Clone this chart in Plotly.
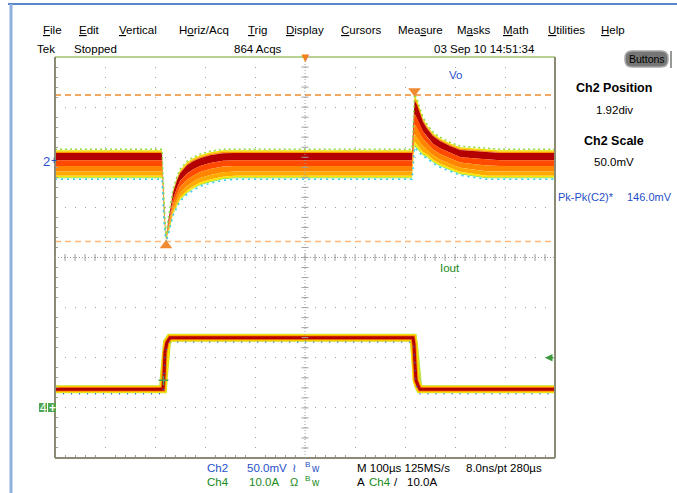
import numpy as np
import plotly.graph_objects as go

W, H = 677, 493
# graticule box in pixels
GX0, GX1, GY0, GY1 = 55, 555, 57, 458

# ---- data ----
# time axis: trigger at 0, 100 us/div, horizontal delay 280 us
t_range = [-220, 780]

# Ch2 (Vo) persistence envelope, mV (upper / lower edge of the coloured band)
vo_t = [-220, -6, -2, 2, 6, 10, 16, 24, 30, 44, 56, 70, 90, 116, 140,
        494, 497, 499, 504, 510, 516, 524, 536, 550, 570, 590, 616, 644, 670, 780]
vo_hi = [11, 11, -39, -77, -60, -46, -29, -16, -9, -1, 3, 6, 9, 11, 11,
         11, 40, 66, 61, 51, 43, 36, 28, 23, 18, 14, 13, 12, 11, 11]
vo_lo = [-17, -17, -59, -80, -73, -66, -53, -45, -39, -32, -28, -24, -21, -18, -17,
         -17, 0, 15, 12, 9, 6, 4, -1, -5, -9, -13, -15, -17, -17, -17]

# Ch4 (Iout), A
io_t = [-220, -4, -2, 0, 4, 10, 496, 498, 500, 502, 506, 510, 780]
io_a = [3.7, 3.7, 6.5, 11.1, 13.1, 14.0, 14.0, 12.6, 8.6, 5.5, 4.5, 3.7, 3.7]

ch2_pos, ch2_scale = 1.92, 50.0   # div, mV/div
ch4_pos, ch4_scale = -3.0, 10.0   # div, A/div
trig_level = 10.0                 # A
cursor_hi, cursor_lo = 66.0, -80.0  # mV  (Pk-Pk 146 mV)
cursor_hi_t, cursor_lo_t = 499, 2


def px(x):
    return x / W


def py(y):
    return 1 - y / H


fig = go.Figure()

# Vo band, drawn as coloured layers between fractions of the envelope
vt = np.array(vo_t)
hi = ch2_pos + np.array(vo_hi) / ch2_scale
lo = ch2_pos + np.array(vo_lo) / ch2_scale
layers = [
    (0.00, 0.05, '#f4e000'),
    (0.05, 0.10, '#ff9a00'),
    (0.10, 0.36, '#b40000'),
    (0.36, 0.56, '#ff4a00'),
    (0.56, 0.76, '#ff8400'),
    (0.76, 0.91, '#ffaa00'),
    (0.91, 0.97, '#ffe400'),
    (0.97, 1.00, '#7ee03c'),
]
for f0, f1, col in layers:
    a = hi + f0 * (lo - hi)
    b = hi + f1 * (lo - hi)
    fig.add_trace(go.Scatter(x=np.concatenate([vt, vt[::-1]]),
                             y=np.concatenate([a, b[::-1]]),
                             fill='toself', fillcolor=col, mode='lines',
                             line=dict(width=0), hoverinfo='skip'))
# speckled edges
fig.add_trace(go.Scatter(x=vt, y=hi + 0.02, mode='lines',
                         line=dict(color='#8ce040', width=1.5, dash='2px,3px')))
fig.add_trace(go.Scatter(x=vt, y=lo - 0.02, mode='lines',
                         line=dict(color='#30c8f0', width=1.5, dash='2px,4px')))

# Iout trace
iy = ch4_pos + np.array(io_a) / ch4_scale
for col, wd in [('#b8e040', 8), ('#ffe000', 7), ('#ff9000', 5), ('#b40000', 3)]:
    fig.add_trace(go.Scatter(x=io_t, y=iy, mode='lines',
                             line=dict(color=col, width=wd), hoverinfo='skip'))
fig.add_trace(go.Scatter(x=io_t, y=iy - 0.09, mode='lines',
                         line=dict(color='#2a6cff', width=1.5, dash='1px,7px')))

# cursors
for v, col in [(cursor_hi, '#f08a30'), (cursor_lo, '#ffb878')]:
    fig.add_trace(go.Scatter(x=t_range, y=[ch2_pos + v / ch2_scale] * 2, mode='lines',
                             line=dict(color=col, width=1.5, dash='6px,4px')))
fig.add_trace(go.Scatter(x=[cursor_hi_t], y=[ch2_pos + cursor_hi / ch2_scale + 0.08],
                         mode='markers', marker=dict(symbol='triangle-down', size=11,
                                                     color='#f08a30')))
fig.add_trace(go.Scatter(x=[cursor_lo_t], y=[ch2_pos + cursor_lo / ch2_scale - 0.08],
                         mode='markers', marker=dict(symbol='triangle-up', size=11,
                                                     color='#f08a30')))
# trigger point marker
fig.add_trace(go.Scatter(x=[-3], y=[ch4_pos + 0.55], mode='markers',
                         marker=dict(symbol='cross-thin', size=7,
                                     line=dict(color='#50a050', width=1.5))))

# centre crosshair with tick marks
cx = np.arange(t_range[0], t_range[1] + 1, 20)
cy = np.arange(-4, 4.01, 0.2)
fig.add_trace(go.Scatter(x=cx, y=np.zeros_like(cx), mode='markers',
                         marker=dict(symbol='line-ns', size=5,
                                     line=dict(color='#a0a0a0', width=1))))
fig.add_trace(go.Scatter(x=np.full_like(cy, 280), y=cy, mode='markers',
                         marker=dict(symbol='line-ew', size=5,
                                     line=dict(color='#a0a0a0', width=1))))

fig.update_xaxes(range=t_range, domain=[px(GX0), px(GX1)], showticklabels=False,
                 tick0=-220, dtick=100, showgrid=True, gridcolor='#a0a0a0',
                 griddash='1px,9px', gridwidth=1, zeroline=False, ticks='',
                 showline=False, fixedrange=True,
                 minor=dict(ticks='inside', ticklen=3, tickcolor='#a0a0a0', dtick=20,
                            tick0=-220, showgrid=False))
fig.update_yaxes(range=[-4, 4], domain=[py(GY1), py(GY0)], showticklabels=False,
                 dtick=1, tick0=0, showgrid=True, gridcolor='#a0a0a0',
                 griddash='1px,9px', gridwidth=1, zeroline=False, ticks='',
                 showline=False, fixedrange=True,
                 minor=dict(ticks='inside', ticklen=3, tickcolor='#a0a0a0', dtick=0.2,
                            showgrid=False))

# rounded "Buttons" pill path
bx0, bx1, by0, by1, r = px(625), px(668), py(67), py(51), 7
rx, ry = r / W, r / H
pill = (f"M {bx0 + rx},{by0} L {bx1 - rx},{by0} Q {bx1},{by0} {bx1},{by0 + ry} "
        f"L {bx1},{by1 - ry} Q {bx1},{by1} {bx1 - rx},{by1} L {bx0 + rx},{by1} "
        f"Q {bx0},{by1} {bx0},{by1 - ry} L {bx0},{by0 + ry} Q {bx0},{by0} {bx0 + rx},{by0} Z")

shapes = [
    # window border
    dict(type='line', xref='paper', yref='paper', x0=px(8), x1=1, y0=py(4), y1=py(4),
         line=dict(color='#5a86c8', width=2)),
    dict(type='line', xref='paper', yref='paper', x0=px(11), x1=px(11), y0=py(4), y1=0,
         line=dict(color='#8fb0dc', width=3)),
    # graticule frame
    dict(type='line', xref='paper', yref='paper', x0=px(GX0), x1=px(GX1), y0=py(GY0), y1=py(GY0),
         line=dict(color='#b8d090', width=2)),
    dict(type='line', xref='paper', yref='paper', x0=px(GX0), x1=px(GX0), y0=py(GY0), y1=py(GY1),
         line=dict(color='#8c8a74', width=2)),
    dict(type='line', xref='paper', yref='paper', x0=px(GX1), x1=px(GX1), y0=py(GY0), y1=py(GY1),
         line=dict(color='#8c8a74', width=2)),
    dict(type='line', xref='paper', yref='paper', x0=px(GX0), x1=px(GX1), y0=py(GY1), y1=py(GY1),
         line=dict(color='#8c8a74', width=2)),
    # centre lines
    dict(type='line', x0=t_range[0], x1=t_range[1], y0=0, y1=0,
         line=dict(color='#a0a0a0', width=1, dash='1px,2px')),
    dict(type='line', x0=280, x1=280, y0=-4, y1=4,
         line=dict(color='#a0a0a0', width=1, dash='1px,2px')),
    # Buttons pill
    dict(type='path', xref='paper', yref='paper', path=pill,
         fillcolor='#767676', line=dict(color='#a8a8a8', width=1.5)),
    dict(type='line', xref='paper', yref='paper', x0=px(671), x1=px(671), y0=py(51), y1=py(68),
         line=dict(color='#303030', width=1)),
    # Ch4 marker box
    dict(type='rect', xref='paper', yref='paper', x0=px(39), x1=px(47), y0=py(412), y1=py(403),
         fillcolor='#4fa64f', line=dict(width=0)),
    dict(type='rect', xref='paper', yref='paper', x0=px(48), x1=px(56), y0=py(412), y1=py(403),
         fillcolor='#4fa64f', line=dict(width=0)),
]

FONT = 'Liberation Sans, Arial, sans-serif'
BLUE, GREEN, BLACK = '#1f4fc8', '#1a8a1a', '#000000'
ann = []


def txt(x, y, s, color=BLACK, size=11, anchor='left', bold=False):
    ann.append(dict(x=px(x), y=py(y), xref='paper', yref='paper', text=f'<b>{s}</b>' if bold else s,
                    showarrow=False, xanchor=anchor, yanchor='middle',
                    font=dict(family=FONT, size=size, color=color)))


menu = [('<u>F</u>ile', 41), ('<u>E</u>dit', 77), ('<u>V</u>ertical', 117),
        ('H<u>o</u>riz/Acq', 177), ('<u>T</u>rig', 246), ('<u>D</u>isplay', 284),
        ('<u>C</u>ursors', 339), ('Mea<u>s</u>ure', 396), ('M<u>a</u>sks', 455),
        ('<u>M</u>ath', 501), ('<u>U</u>tilities', 546), ('<u>H</u>elp', 599)]
for s, x in menu:
    txt(x, 30, s, size=11.5)
txt(35, 49, 'Tek', size=11.5)
txt(72, 49, 'Stopped', size=11.5)
txt(232, 49, '864 Acqs', size=11.5)
txt(432, 49, '03 Sep 10 14:51:34', size=11.5)
txt(646.5, 59, 'Buttons', size=10.5, anchor='center')

txt(614, 88, 'Ch2 Position', size=12.5, anchor='center', bold=True)
txt(614, 110, '1.92div', size=11.5, anchor='center')
txt(614, 141, 'Ch2 Scale', size=12.5, anchor='center', bold=True)
txt(614, 162, '50.0mV', size=11.5, anchor='center')
txt(556, 197, 'Pk-Pk(C2)*', BLUE, size=11)
txt(625, 197, '146.0mV', BLUE, size=11)

txt(455, 75, 'Vo', BLUE, size=11.5, anchor='center')
txt(450, 268, 'Iout', GREEN, size=11.5, anchor='center')

txt(41, 161, '2', BLUE, size=13)
txt(49, 160, '+', BLUE, size=10)
txt(43, 407.5, '4', '#ffffff', size=12, anchor='center')
txt(52, 407.5, '+', '#ffffff', size=12, anchor='center', bold=True)

txt(205, 468, 'Ch2', BLUE, size=11.5)
txt(245, 468, '50.0mV', BLUE, size=11.5)
txt(290, 468, '≀', BLUE, size=12)
txt(303, 464, 'B', BLUE, size=8)
txt(309, 468, 'w', BLUE, size=10)
txt(205, 482, 'Ch4', GREEN, size=11.5)
txt(247, 482, '10.0A', GREEN, size=11.5)
txt(288, 482, 'Ω', GREEN, size=11)
txt(303, 478, 'B', GREEN, size=8)
txt(309, 482, 'w', GREEN, size=10)
txt(355, 468, 'M 100µs 125MS/s', size=11.5)
txt(464, 468, '8.0ns/pt 280µs', size=11.5)
txt(355, 482, 'A', size=11.5)
txt(367, 482, 'Ch4', GREEN, size=11.5)
txt(392, 482, '/', size=11.5)
txt(405, 482, '10.0A', size=11.5)

# trigger position marker (top) and trigger level arrow (right)
ann.append(dict(x=280, y=4, xref='x', yref='y', text='▼', showarrow=False, yanchor='middle',
                font=dict(size=13, color='#f08020')))
ann.append(dict(x=t_range[1] - 20, y=ch4_pos + trig_level / ch4_scale, xref='x', yref='y',
                ax=t_range[1], ay=ch4_pos + trig_level / ch4_scale, axref='x', ayref='y',
                showarrow=True, arrowhead=2, arrowsize=1, arrowwidth=1.5, arrowcolor='#3c9a3c',
                text=''))

fig.update_layout(width=W, height=H, margin=dict(l=0, r=0, t=0, b=0),
                  paper_bgcolor='white', plot_bgcolor='white', showlegend=False,
                  shapes=shapes, annotations=ann)

fig.write_html("out.html", config={'displayModeBar': False})

# drop the browser's default body margin so the figure sits at the page corner
with open("out.html", encoding="utf-8") as f:
    page = f.read()
page = page.replace("<head>", "<head><style>body{margin:0;padding:0;}</style>", 1)
with open("out.html", "w", encoding="utf-8") as f:
    f.write(page)
